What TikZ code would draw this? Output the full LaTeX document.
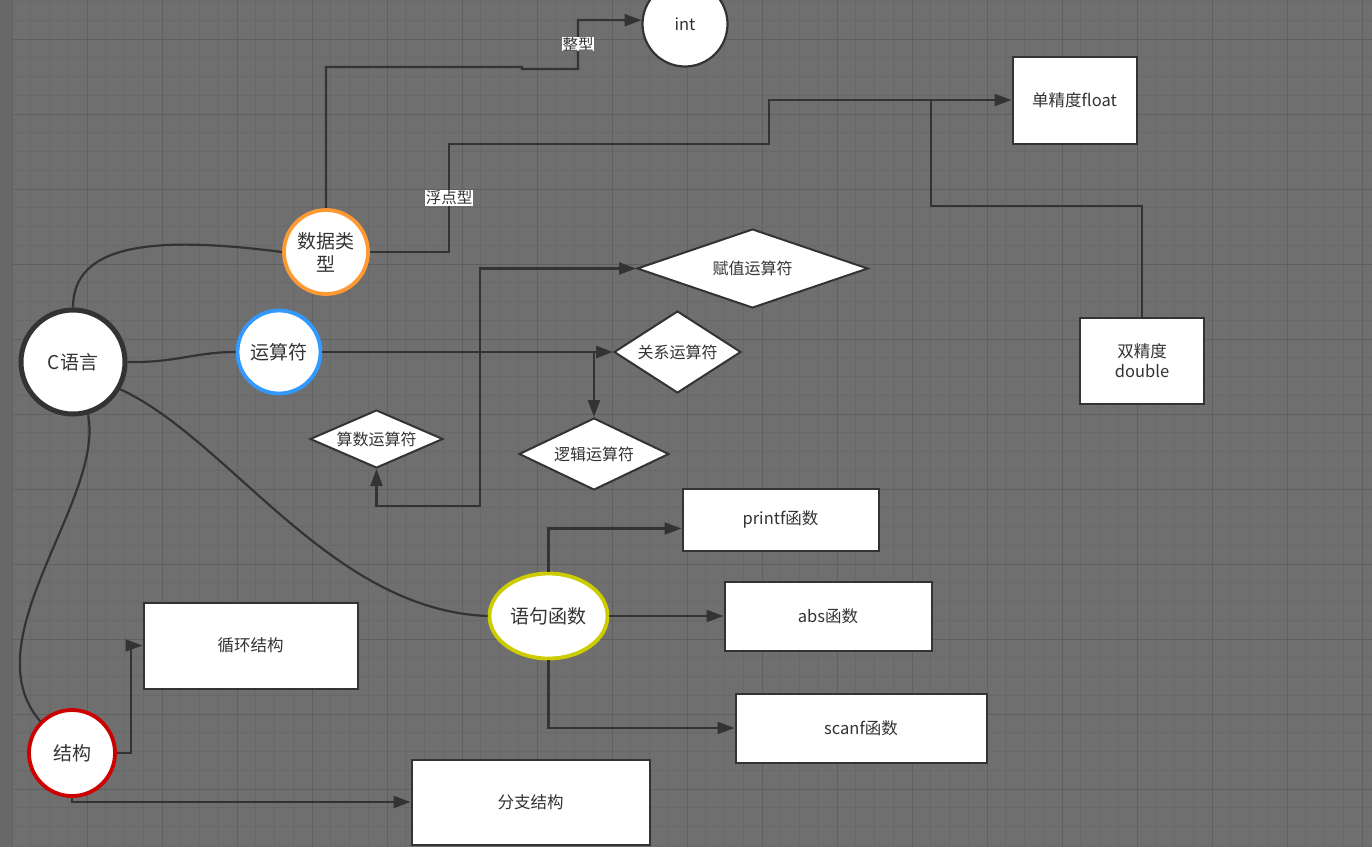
\documentclass[tikz,border=0pt]{standalone}
\usepackage{fontspec}
\setmainfont{Noto Sans CJK SC}
\usetikzlibrary{shapes.geometric,arrows.meta}
\definecolor{bg}{RGB}{111,111,111}
\definecolor{gminor}{RGB}{104,104,104}
\definecolor{gmajor}{RGB}{96,96,96}
\definecolor{ln}{RGB}{51,51,51}
\definecolor{tx}{RGB}{51,51,51}
\definecolor{orng}{RGB}{255,153,51}
\definecolor{blu}{RGB}{51,153,255}
\definecolor{ylw}{RGB}{204,204,0}
\definecolor{rd}{RGB}{204,0,0}
\begin{document}
\begin{tikzpicture}[x=1pt,y=-1pt,
  box/.style={draw=ln, line width=2pt, fill=white, rectangle, inner sep=0pt, text=tx, font=\fontsize{16.5}{20}\selectfont, align=center},
  dia/.style={draw=ln, line width=2pt, fill=white, diamond, inner sep=0pt, text=tx, font=\fontsize{16}{19}\selectfont},
  hub/.style={circle, fill=white, line width=3.8pt, inner sep=0pt, text=tx, font=\fontsize{19}{23}\selectfont, align=center},
  conn/.style={draw=ln, line width=2.2pt},
  arr/.style={conn, -{Triangle[length=17pt,width=12pt]}},
  lbl/.style={fill=white, inner sep=0.5pt, text=tx, font=\fontsize{15.5}{17}\selectfont}]
\useasboundingbox (0,0) rectangle (1372,847);
\fill[bg] (0,0) rectangle (1372,847);
\fill[gminor] (0,0) rectangle (12,847);
\foreach \i in {0,...,72} {\pgfmathsetmacro\xx{12+18.75*\i}\draw[gminor, line width=0.8pt] (\xx,0) -- (\xx,847);}
\foreach \i in {0,...,45} {\pgfmathsetmacro\yy{1.5+18.75*\i}\draw[gminor, line width=0.8pt] (12,\yy) -- (1372,\yy);}
\foreach \i in {0,...,18} {\pgfmathsetmacro\xx{12+75*\i}\draw[gmajor, line width=1pt] (\xx,0) -- (\xx,847);}
\foreach \i in {0,...,10} {\pgfmathsetmacro\yy{39+75*\i}\draw[gmajor, line width=1pt] (12,\yy) -- (1372,\yy);}

% nodes
\node[hub, draw=ln, line width=2.2pt, minimum size=85pt, font=\fontsize{16.5}{19}\selectfont] (int) at (685,24) {int};
\node[box, minimum width=124pt, minimum height=87pt] (flt) at (1074.5,100) {单精度float};
\node[box, minimum width=124pt, minimum height=86pt] (dbl) at (1142,360.5) {双精度\\double};
\node[hub, draw=orng, minimum size=84pt] (sj) at (326,252) {数据类\\型};
\node[hub, draw=blu, minimum size=83pt] (ys) at (279,352) {运算符};
\node[hub, draw=ln, line width=5pt, minimum size=104pt] (c) at (73,362) {C语言};
\node[dia, shape aspect=2.92, minimum width=231pt, minimum height=79pt] (fzys) at (752.5,268.5) {赋值运算符};
\node[dia, shape aspect=1.55, minimum width=127pt, minimum height=82pt] (gx) at (677.5,352) {关系运算符};
\node[dia, shape aspect=2.08, minimum width=150pt, minimum height=72pt] (lj) at (594,454) {逻辑运算符};
\node[dia, shape aspect=2.3, minimum width=133pt, minimum height=58pt] (ss) at (376.5,439) {算数运算符};
\node[box, minimum width=196pt, minimum height=62pt] (pf) at (780.5,519.5) {printf函数};
\node[box, minimum width=207pt, minimum height=69pt] (abs) at (828,616) {abs函数};
\node[box, minimum width=251pt, minimum height=69pt] (sc) at (861,728) {scanf函数};
\node[hub, ellipse, draw=ylw, minimum width=118pt, minimum height=85pt] (yj) at (548.5,616) {语句函数};
\node[box, minimum width=214pt, minimum height=86pt] (xh) at (250.5,645.5) {循环结构};
\node[box, minimum width=238pt, minimum height=85pt] (fzjg) at (530.5,802) {分支结构};
\node[hub, draw=rd, minimum size=86pt] (jg) at (72,753) {结构};

% curves from C
\draw[conn] (c.north) .. controls (73,245) and (150,235) .. (sj.west);
\draw[conn] (c.east) .. controls (175,363) and (195,352) .. (ys.west);
\draw[conn] (c.-30) .. controls (230,440) and (330,610) .. (yj.west);
\draw[conn] (c.-74) .. controls (105,500) and (-30,640) .. (jg.135);

% data types
\draw[arr] (sj.north) |- (522,67) -- (522,69) -| (578,20) -- (int.175);
\node[lbl] (lzx) at (578,44) {整型};
\draw[arr] (sj.east) -- (449,252) -- (449,144) -- (769,144) |- (flt.west);
\node[lbl] (lfd) at (449,198) {浮点型};
\coordinate (fb) at (931,100);
\draw[conn] (fb) -- (931,206) -| (dbl.north);

% operators
\draw[arr, line width=2.8pt] (ys.east) -- (gx.west);
\coordinate (j1) at (480,352);
\coordinate (j2) at (594,352);
\draw[arr] (j1) |- (fzys.west);
\draw[arr] (j1) -- (480,506) -| (ss.south);
\draw[arr] (j2) -- (lj.north);

% functions
\draw[arr] (yj.north) |- ([yshift=-9pt]pf.west);
\draw[arr] (yj.east) -- (abs.west);
\draw[arr] (yj.south) |- (sc.west);

% structures
\draw[arr] (jg.east) -- (131,753) |- (xh.west);
\draw[arr] (jg.south) |- (fzjg.west);
\end{tikzpicture}
\end{document}
